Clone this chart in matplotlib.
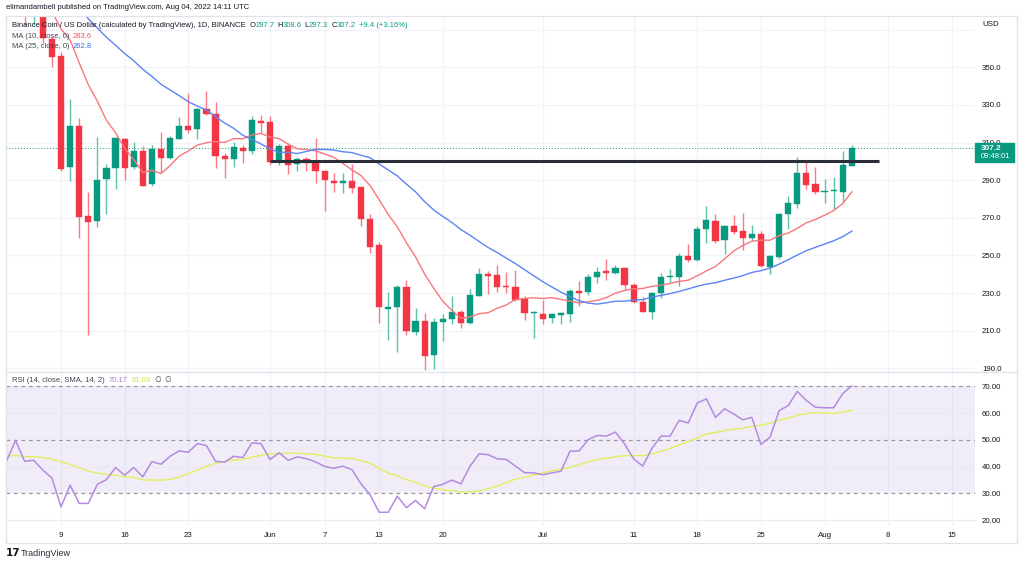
import numpy as np
import pandas as pd
import matplotlib
matplotlib.use("Agg")
import matplotlib.pyplot as plt
import matplotlib.dates as mdates
from matplotlib.lines import Line2D
from matplotlib.patches import Rectangle
from matplotlib import font_manager

# ---------------- data ----------------
dates = pd.date_range("2022-05-03", "2022-08-04", freq="D")

opens = [390, 378, 398, 378, 380, 365, 356, 297.2, 318.8, 271, 268.3, 290.5, 296.3, 311.9, 296.9, 305.7, 288, 306.6, 302, 312.1,
         318.8, 317, 328, 325.2, 302.9, 301.3, 307.1, 305.7, 321.5, 321.1, 299.9, 308.2, 298.6, 301.1, 299, 294.7, 289.8, 288.4, 289.4, 286.2,
         269.4, 255.6, 221.4, 222.8, 233.4, 209.5, 215.4, 197.2, 214.5, 216.1, 219.8, 214.3, 228.7, 240.2, 239.5, 233.8, 233.4, 227.1, 219.3, 218.7,
         216.6, 218.2, 218.7, 231.3, 230.8, 238.4, 241.8, 240.5, 243.2, 234.3, 225.3, 220.2, 229.9, 238.6, 238.8, 249.7, 247.6, 263.9, 268.5, 258.2,
         265.7, 262.8, 259.1, 261.4, 244.1, 249.4, 272.1, 277.4, 294, 287.8, 283.8, 284, 283.8, 297.7]
highs = [392, 402, 399, 386, 381, 366, 358, 333, 322.9, 283.9, 313.2, 298.6, 313.2, 312.5, 310.3, 308.2, 308.7, 315.6, 313.7, 323.8,
         336.5, 328.5, 337.4, 331.4, 304.3, 310.3, 308.7, 324.1, 324.5, 324.1, 309.1, 309.6, 302.5, 302.5, 312.4, 294.8, 293.7, 293.7, 298.6, 286.5,
         271.9, 257.4, 230.8, 234.1, 237, 221.9, 219.3, 217, 218.9, 228.5, 221, 232.4, 243.4, 241.6, 245.1, 241.2, 242.3, 228.5, 220.5, 226.5,
         219.6, 220, 232, 236.4, 240.2, 243.7, 248, 245.1, 244, 235.2, 228.1, 230.8, 240.5, 242.7, 251.5, 255.9, 265.7, 276.3, 272.1, 266.2,
         271.5, 272.8, 266.2, 263.2, 250.5, 272.4, 281.6, 302.5, 300.2, 297.2, 290.5, 291.9, 305.7, 308.6]
lows = [378, 377.8, 372.5, 372.5, 363, 350, 295, 289.8, 259.3, 207.7, 265, 272.1, 285.3, 290.1, 296.2, 287, 287.1, 293.7, 301.1, 311.9,
        315.3, 312.1, 324.5, 296.3, 291.4, 297.2, 299, 303.9, 315, 298, 297.9, 293.1, 295.1, 294.7, 288.4, 273.8, 283.9, 283, 283, 265.7,
        251.5, 214.3, 205.1, 198.9, 207.8, 207.8, 189.2, 189.5, 204.7, 213.4, 211.3, 213.4, 228.5, 229.5, 230.4, 230.2, 226, 215.7, 206, 213.4,
        214, 213.6, 214.8, 223.2, 229, 235.6, 237, 240, 231.7, 224.5, 220, 216.3, 227.2, 235.2, 233.8, 246.7, 247.3, 256.5, 256.8, 250.8,
        261.4, 252.9, 257.9, 244, 240, 248, 263.9, 275.1, 285.3, 282.7, 277.7, 274.5, 278.3, 297.3]
closes = [378, 398, 378, 380, 365.4, 355.3, 295.8, 318.8, 270.3, 268, 290.1, 296.7, 312.3, 296.7, 305.7, 287.1, 306.6, 302, 312.3, 319,
          316.7, 328, 325, 302.9, 301.1, 307.5, 305.7, 322, 320.6, 299.9, 308.2, 297.9, 301.1, 299, 294.7, 290.1, 288.4, 289.8, 286, 269.6,
          254.7, 222.8, 222.8, 233.4, 210.1, 215.4, 196.8, 214.8, 216.4, 220.2, 214, 229, 240.2, 239.3, 233.4, 233.1, 226.4, 219.3, 220.2, 216.4,
          218.7, 219.3, 231.3, 230.2, 238.8, 241.4, 240.5, 243.2, 234.3, 225.3, 220.2, 230.2, 238.4, 239.1, 249.7, 247.6, 264.1, 268.9, 257.9, 265.7,
          262.3, 259.1, 261.4, 244.4, 249.7, 271.9, 277.7, 294, 287.6, 283.7, 284.2, 284.5, 297.9, 307.2]
# closes before the visible window (Apr 8 - May 2), used for moving averages
prior_closes = [420, 424, 419, 398, 406, 414, 408, 414, 415, 410, 413, 420, 418, 407, 401,
                402, 400, 407, 388, 394, 397, 387, 378, 391, 385]

rsi = [42.0, 49.8, 42.0, 42.4, 38.7, 35.8, 25.0, 33.1, 26.3, 26.3, 33.4, 35.2, 39.7, 36.8, 39.7, 36.2, 41.9, 40.9, 43.9, 45.9,
       45.4, 48.6, 47.9, 42.0, 41.7, 43.9, 43.4, 48.9, 48.6, 42.7, 45.2, 42.4, 43.7, 43.0, 41.8, 40.1, 39.4, 40.2, 38.9, 33.6,
       29.6, 23.0, 23.0, 29.0, 24.7, 27.4, 24.3, 32.6, 33.4, 35.0, 33.6, 40.2, 44.8, 44.5, 42.9, 42.7, 40.2, 37.8, 37.7, 37.0,
       37.7, 38.3, 45.8, 45.9, 50.1, 51.7, 51.4, 52.9, 48.5, 42.9, 40.2, 46.8, 51.4, 51.4, 57.3, 56.3, 63.8, 65.3, 58.4, 61.6,
       59.7, 57.5, 58.4, 48.3, 51.0, 60.9, 62.8, 68.1, 64.7, 62.2, 62.0, 62.0, 67.3, 70.17]
# RSI values before the visible window (Apr 20 - May 2), used for the RSI SMA
prior_rsi = [46, 48, 44, 42, 43, 41, 45, 44, 45, 43, 41, 46, 45]

res_level = 300.4
res_start, res_end = "2022-06-01", "2022-08-07"
last_price = 307.2

tick_dates = ["2022-05-09", "2022-05-16", "2022-05-23", "2022-06-01", "2022-06-07", "2022-06-13", "2022-06-20",
              "2022-07-01", "2022-07-11", "2022-07-18", "2022-07-25", "2022-08-01", "2022-08-08", "2022-08-15"]
tick_labels = ["9", "16", "23", "Jun", "7", "13", "20", "Jul", "11", "18", "25", "Aug", "8", "15"]
price_ticks = [190, 210, 230, 250, 270, 290, 310, 330, 350]
rsi_ticks = [20, 30, 40, 50, 60, 70]

# ---------------- derived ----------------
all_closes = pd.Series(prior_closes + closes)
ma10 = all_closes.rolling(10).mean().values[len(prior_closes):]
ma25 = all_closes.rolling(25).mean().values[len(prior_closes):]
rsi_sma = pd.Series(prior_rsi + rsi).rolling(14).mean().values[len(prior_rsi):]

o = np.array(opens); h = np.array(highs); l = np.array(lows); c = np.array(closes)
x = mdates.date2num(dates)
up = c >= o

# ---------------- style ----------------
W, H = 1024, 565
installed = {f.name for f in font_manager.fontManager.ttflist}
NARROW = "Liberation Sans Narrow" in installed
FONT = ["Liberation Sans Narrow", "Liberation Sans", "DejaVu Sans"] if NARROW else ["Liberation Sans", "DejaVu Sans"]
FS_SCALE = 1.12 if NARROW else 0.95   # axis labels
HS_SCALE = 1.04 if NARROW else 0.88   # header / legend texts
plt.rcParams["font.family"] = FONT
TXT = "#131722"
GRID = "#f0f3fa"
GREEN = "#089981"; RED = "#F23645"
GREEN_W = "#5fbfa8"; RED_W = "#f77a84"

fig = plt.figure(figsize=(W / 100, H / 100), dpi=100)
fig.patch.set_facecolor("white")

def fx(px): return px / W
def fy(py): return 1 - py / H

ax = fig.add_axes([fx(6), fy(372), fx(975 - 6), (372 - 16) / H])
ax2 = fig.add_axes([fx(6), fy(526), fx(975 - 6), (526 - 372) / H], sharex=ax)

d0 = mdates.date2num(pd.Timestamp("2022-05-09"))
ax.set_xlim(d0 - 6.05, d0 + 100.55)
ax.set_ylim(188.06, 377.27)
ax2.set_ylim(17.87, 75.34)

for a in (ax, ax2):
    for s in a.spines.values():
        s.set_visible(False)
    a.set_facecolor("white")

tnums = mdates.date2num(pd.to_datetime(tick_dates))
for a in (ax, ax2):
    for t in tnums:
        a.axvline(t, color=GRID, lw=0.9, zorder=0)

for p in price_ticks + [370]:
    ax.axhline(p, color=GRID, lw=0.9, zorder=0)

# candles
ax.vlines(x, l, h, colors=np.where(up, GREEN_W, RED_W), lw=1.0, zorder=2)
body_h = np.maximum(np.abs(c - o), 0.7)
ax.bar(x, body_h, bottom=np.minimum(o, c), width=0.68, color=np.where(up, GREEN, RED),
       edgecolor=np.where(up, GREEN, RED), lw=0.3, zorder=3)

# moving averages
ax.plot(x, ma10, color="#f7777d", lw=1.0, zorder=4)
ax.plot(x, ma25, color="#5c84f5", lw=1.0, zorder=4)

# resistance line and last price line
ax.hlines(res_level, mdates.date2num(pd.Timestamp(res_start)), mdates.date2num(pd.Timestamp(res_end)),
          color="#2a2e39", lw=2.2, zorder=5)
ax.axhline(last_price, color=GREEN, lw=0.7, ls=(0, (1, 2)), zorder=1)

ax.set_yticks(price_ticks)
ax.set_yticklabels([f"{p:.1f}" for p in price_ticks])
ax.yaxis.tick_right()
ax.tick_params(axis="y", length=0, pad=5, labelsize=6 * FS_SCALE, labelcolor=TXT)
ax.tick_params(axis="x", length=0, labelbottom=False)

# RSI panel
ax2.axhspan(30, 70, color="#7e57c2", alpha=0.1, lw=0, zorder=0)
for v in (20, 40, 60):
    ax2.axhline(v, color="#ebe8f3", lw=0.9, zorder=1)
for v in (30, 50, 70):
    ax2.axhline(v, color="#9598a1", lw=0.9, ls=(0, (3, 3)), zorder=1)
ax2.plot(x, rsi_sma, color="#e2ef5e", lw=1.0, zorder=3)
ax2.plot(x, rsi, color="#b48ae0", lw=1.1, zorder=4)
ax2.set_yticks(rsi_ticks)
ax2.set_yticklabels([f"{v:.2f}" for v in rsi_ticks])
ax2.yaxis.tick_right()
ax2.tick_params(axis="y", length=0, pad=5, labelsize=6 * FS_SCALE, labelcolor=TXT)
ax2.set_xticks(tnums)
ax2.set_xticklabels(tick_labels)
ax2.tick_params(axis="x", length=0, pad=4, labelsize=6 * FS_SCALE, labelcolor=TXT)

# frame lines
BORDER = "#e0e3eb"
for (x1, y1, x2, y2) in [(6, 16, 1017, 16), (6, 543, 1017, 543), (6, 16, 6, 543), (1017, 16, 1017, 543),
                         (6, 372, 1017, 372)]:
    fig.add_artist(Line2D([fx(x1), fx(x2)], [fy(y1), fy(y2)], color=BORDER, lw=0.9, transform=fig.transFigure))

# price box (covers part of the 310.0 label, as in the original)
fig.add_artist(Rectangle((fx(975), fy(162)), fx(39), 19 / H, transform=fig.transFigure, color=GREEN, zorder=10))
clip = Rectangle((fx(975), fy(143)), fx(45), 12 / H, transform=fig.transFigure, visible=False)
fig.add_artist(clip)
for lab, val in zip(ax.get_yticklabels(), price_ticks):
    if val == 310:
        lab.set_clip_path(clip)
fig.text(fx(981), fy(148.5), f"{last_price:.1f}", color="white", fontsize=6.2 * FS_SCALE, va="center", ha="left",
         zorder=11, weight="bold")
fig.text(fx(981), fy(157), "09:48:01", color="white", fontsize=5.8 * FS_SCALE, va="center", ha="left", zorder=11)
fig.text(fx(982), fy(25), "USD", color=TXT, fontsize=6 * FS_SCALE, va="center", ha="left")

renderer = fig.canvas.get_renderer()

def pieces(xp, yp, items, size=6.2):
    cur = xp
    for txt, col, gap in items:
        t = fig.text(fx(cur), fy(yp), txt, color=col, fontsize=size * HS_SCALE, va="center", ha="left", zorder=12)
        bb = t.get_window_extent(renderer=renderer)
        cur += bb.width + gap

fig.text(fx(6), fy(7.5), "elimandambell published on TradingView.com, Aug 04, 2022 14:11 UTC",
         color=TXT, fontsize=6.2 * HS_SCALE, va="center", ha="left")

pieces(11.5, 25.5, [("Binance Coin / US Dollar (calculated by TradingView), 1D, BINANCE", TXT, 4),
                    ("O", TXT, 0), ("297.7", GREEN, 3), ("H", TXT, 0), ("308.6", GREEN, 3),
                    ("L", TXT, 0), ("297.3", GREEN, 3), ("C", TXT, 0), ("307.2", GREEN, 3),
                    ("+9.4 (+3.16%)", GREEN, 0)])
pieces(11.5, 36, [("MA (10, close, 0)", "#434651", 4), ("283.6", "#f7525f", 0)])
pieces(11.5, 47, [("MA (25, close, 0)", "#434651", 4), ("262.8", "#3d6af7", 0)])
pieces(11.5, 380, [("RSI (14, close, SMA, 14, 2)", "#434651", 4), ("70.17", "#a97ddc", 4),
                   ("61.03", "#d2de3a", 4), ("\u2205", "#434651", 4), ("\u2205", "#434651", 0)])

fig.text(fx(6), fy(553), "17", color=TXT, fontsize=7.5, weight="heavy", va="center", ha="left",
         family=["DejaVu Sans"])
fig.text(fx(21), fy(553), "TradingView", color="#2a2e39", fontsize=6.8 * FS_SCALE, va="center", ha="left")

fig.savefig("out.png", dpi=100, facecolor="white")
